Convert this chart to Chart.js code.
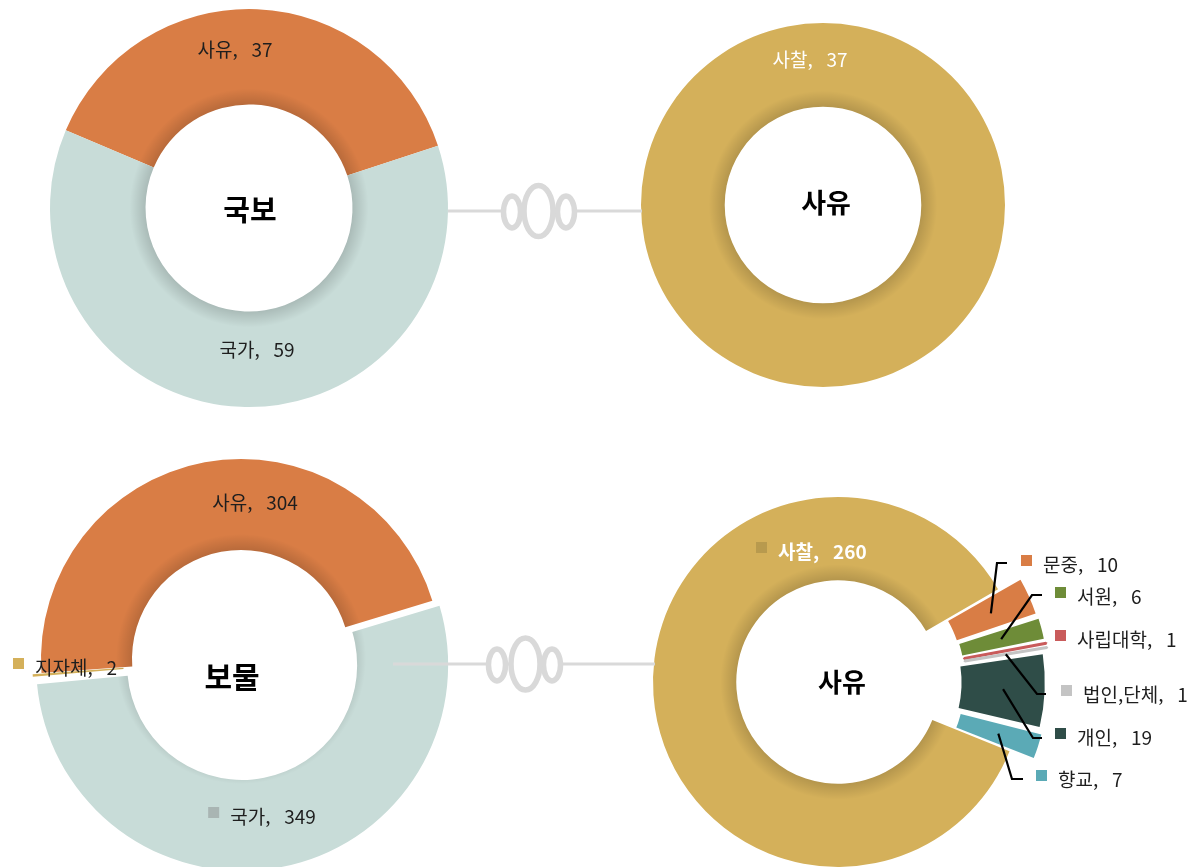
<!DOCTYPE html>
<html lang="ko">
<head>
<meta charset="utf-8">
<title>국보·보물 소유 현황</title>
<script src="https://cdn.jsdelivr.net/npm/chart.js@4.4.1/dist/chart.umd.min.js"></script>
<style>
  html, body { margin: 0; padding: 0; background: #fff; width: 1188px; height: 867px; overflow: hidden; }
  .ring { position: absolute; }
  #links { position: absolute; left: 0; top: 0; }
</style>
</head>
<body>
<canvas class="ring" id="gukbo"></canvas>
<canvas class="ring" id="gukboPriv"></canvas>
<canvas class="ring" id="bomul"></canvas>
<canvas class="ring" id="bomulPriv"></canvas>

<svg id="links" width="1188" height="867">
  <g stroke="#D9D9D9" fill="#fff">
    <line x1="448" y1="211" x2="642" y2="211" stroke-width="3"/>
    <ellipse cx="512" cy="212" rx="8.5" ry="16" stroke-width="5.5"/>
    <ellipse cx="566" cy="212" rx="8.5" ry="16" stroke-width="5.5"/>
    <ellipse cx="538.5" cy="211" rx="14.5" ry="25.5" stroke-width="5.5"/>

    <line x1="393" y1="664" x2="655" y2="664" stroke-width="3"/>
    <ellipse cx="497" cy="665" rx="8.5" ry="16" stroke-width="5.5"/>
    <ellipse cx="552" cy="665" rx="8.5" ry="16" stroke-width="5.5"/>
    <ellipse cx="525.5" cy="664" rx="14.5" ry="26" stroke-width="5.5"/>
  </g>
</svg>

<script>
// 국보: 소유 구분
const gukboLabels = ['사유', '국가'];
const gukboValues = [37, 59];
// 국보 중 사유
const gukboPrivLabels = ['사찰'];
const gukboPrivValues = [37];
// 보물: 소유 구분
const bomulLabels = ['사유', '국가', '지자체'];
const bomulValues = [304, 349, 2];
// 보물 중 사유
const bomulPrivLabels = ['사찰', '문중', '서원', '사립대학', '법인,단체', '개인', '향교'];
const bomulPrivValues = [260, 10, 6, 1, 1, 19, 7];

const ORANGE = '#D97D45', MIST = '#C8DCD8', GOLD = '#D4B05A';
const FONT = "'Noto Sans CJK KR', 'Noto Sans', sans-serif";
const HALF = 350;

function ringPlugin(spec) {
  return {
    id: 'ring_' + spec.id,
    afterDatasetsDraw(chart) {
      // soft inner shadow along the hole of the ring
      const ctx = chart.ctx;
      const arc = chart.getDatasetMeta(0).data[0];
      const inner = arc.innerRadius;
      const g = ctx.createRadialGradient(arc.x, arc.y, inner, arc.x, arc.y, inner + 16);
      g.addColorStop(0, 'rgba(0,0,0,0.15)');
      g.addColorStop(1, 'rgba(0,0,0,0)');
      ctx.save();
      ctx.globalCompositeOperation = 'source-atop';
      ctx.fillStyle = g;
      ctx.fillRect(0, 0, chart.width, chart.height);
      ctx.restore();
    },
    afterDraw(chart) {
      const ctx = chart.ctx;
      const meta = chart.getDatasetMeta(0);
      const cx = meta.data[0].x, cy = meta.data[0].y;
      ctx.save();
      ctx.textBaseline = 'middle';

      spec.labels.forEach(l => {
        const text = `${spec.names[l.i]},\u2002 ${spec.values[l.i]}`;
        const x = cx + l.dx, y = cy + l.dy;
        ctx.font = `${l.bold ? 'bold ' : ''}19px ${FONT}`;
        ctx.textAlign = l.align || 'center';
        ctx.fillStyle = l.color || '#1e1e1e';
        ctx.fillText(text, x, y);

        if (l.marker) {
          const left = l.align === 'left' ? x : x - ctx.measureText(text).width / 2;
          ctx.fillStyle = l.marker;
          ctx.fillRect(left - 22, y - 10, 11, 11);
        }

        if (l.leader) {
          const el = meta.data[l.i];
          const mid = (el.startAngle + el.endAngle) / 2;
          const off = (el.options.offset || 0) / 4;
          const fix = 1 - Math.sin(Math.min(Math.PI, el.endAngle - el.startAngle));
          const r = (el.innerRadius + el.outerRadius) / 2 + off * fix;
          const sx = el.x + Math.cos(mid) * (r + off);
          const sy = el.y + Math.sin(mid) * (r + off);
          ctx.beginPath();
          ctx.moveTo(sx, sy);
          ctx.lineTo(cx + l.leader[0], cy + l.leader[1]);
          ctx.lineTo(cx + l.leader[2], cy + l.leader[3]);
          ctx.strokeStyle = '#000';
          ctx.lineWidth = 2.2;
          ctx.stroke();
        }
      });

      ctx.font = `bold ${spec.titleSize}px ${FONT}`;
      ctx.textAlign = 'center';
      ctx.fillStyle = '#000';
      ctx.fillText(spec.title, cx + spec.titlePos[0], cy + spec.titlePos[1]);
      ctx.restore();
    }
  };
}

function makeRing(spec) {
  const canvas = document.getElementById(spec.id);
  canvas.width = HALF * 2;
  canvas.height = HALF * 2;
  canvas.style.left = (spec.center[0] - HALF) + 'px';
  canvas.style.top = (spec.center[1] - HALF) + 'px';
  return new Chart(canvas, {
    type: 'doughnut',
    data: {
      labels: spec.names,
      datasets: [{
        data: spec.values,
        backgroundColor: spec.colors,
        borderColor: spec.borderColor || '#fff',
        borderWidth: spec.borderWidth,
        offset: spec.offsets
      }]
    },
    options: {
      responsive: false,
      animation: false,
      events: [],
      radius: spec.radius,
      cutout: spec.cutout,
      rotation: spec.rotation,
      plugins: { legend: { display: false }, tooltip: { enabled: false } }
    },
    plugins: [ringPlugin(spec)]
  });
}

makeRing({
  id: 'gukbo', center: [249, 208], radius: 199, cutout: '52%', rotation: -67,
  names: gukboLabels, values: gukboValues, colors: [ORANGE, MIST],
  offsets: [0, 0], borderWidth: 0,
  title: '국보', titleSize: 29, titlePos: [1, 2],
  labels: [
    { i: 0, dx: -14, dy: -158 },
    { i: 1, dx: 8, dy: 142 }
  ]
});

makeRing({
  id: 'gukboPriv', center: [823, 205], radius: 182, cutout: '54%', rotation: 0,
  names: gukboPrivLabels, values: gukboPrivValues, colors: [GOLD],
  offsets: [0], borderWidth: 0,
  title: '사유', titleSize: 27, titlePos: [3, -2],
  labels: [
    { i: 0, dx: -13, dy: -145, color: '#fff' }
  ]
});

makeRing({
  id: 'bomul', center: [241, 659], radius: 200, cutout: '54.5%', rotation: -94,
  names: bomulLabels, values: bomulValues, colors: [ORANGE, MIST, GOLD],
  offsets: [0, 24, 18], borderWidth: 0,
  title: '보물', titleSize: 30, titlePos: [-9, 18],
  labels: [
    { i: 0, dx: 14, dy: -156 },
    { i: 1, dx: 32, dy: 158, marker: '#A9B5B3' },
    { i: 2, dx: -206, dy: 9, align: 'left', marker: GOLD }
  ]
});

// the two one-unit slivers get a stroke in their own colour so they stay visible once exploded
const privColors = [GOLD, ORANGE, '#6E8C38', '#C95B5B', '#C4C4C4', '#2F4D48', '#5BAAB6'];
makeRing({
  id: 'bomulPriv', center: [838, 682], radius: 185, cutout: '55%', rotation: 112,
  names: bomulPrivLabels, values: bomulPrivValues, colors: privColors,
  offsets: [0, 54, 54, 54, 54, 54, 54],
  borderWidth: [0, 0, 0, 3, 3, 0, 0],
  borderColor: ['#fff', '#fff', '#fff', privColors[3], privColors[4], '#fff', '#fff'],
  title: '사유', titleSize: 26, titlePos: [4, 0],
  labels: [
    { i: 0, dx: -60, dy: -130, align: 'left', color: '#fff', bold: true, marker: '#B89A4E' },
    { i: 1, dx: 205, dy: -117, align: 'left', marker: privColors[1], leader: [159, -119, 169, -119] },
    { i: 2, dx: 239, dy: -85, align: 'left', marker: privColors[2], leader: [194, -87, 204, -87] },
    { i: 3, dx: 239, dy: -42, align: 'left', marker: privColors[3] },
    { i: 4, dx: 245, dy: 13, align: 'left', marker: privColors[4], leader: [199, 12, 208, 12] },
    { i: 5, dx: 239, dy: 56, align: 'left', marker: privColors[5], leader: [195, 56, 204, 56] },
    { i: 6, dx: 220, dy: 98, align: 'left', marker: privColors[6], leader: [174, 97, 185, 97] }
  ]
});
</script>
</body>
</html>
